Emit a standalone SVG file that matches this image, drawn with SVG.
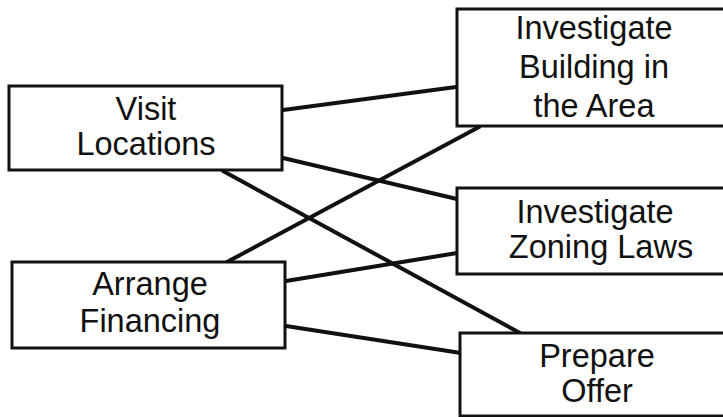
<svg xmlns="http://www.w3.org/2000/svg" width="723" height="417" viewBox="0 0 723 417">
<style>
.box{fill:#fff;stroke:#111;stroke-width:3}
.lbl{font-family:"Liberation Sans",Arial,sans-serif;font-size:32.5px;fill:#111;text-anchor:middle}
.conn line{stroke:#111;stroke-width:4;stroke-linecap:round}
</style>
<rect width="723" height="417" fill="#fff"/>
<g id="connectors" class="conn">
<line x1="283" y1="110" x2="456" y2="87"/>
<line x1="283" y1="158" x2="457" y2="199"/>
<line x1="223" y1="171" x2="520" y2="333"/>
<line x1="227" y1="262" x2="479" y2="127"/>
<line x1="286" y1="281" x2="457" y2="253"/>
<line x1="286" y1="326" x2="461" y2="353"/>
</g>
<g id="visit-locations">
<rect class="box" x="9" y="86" width="273" height="84"/>
<text class="lbl" x="146" y="120">Visit</text>
<text class="lbl" x="146" y="155">Locations</text>
</g>
<g id="arrange-financing">
<rect class="box" x="12" y="262" width="273" height="86"/>
<text class="lbl" x="150" y="295">Arrange</text>
<text class="lbl" x="150" y="332">Financing</text>
</g>
<g id="investigate-building">
<rect class="box" x="457" y="9" width="280" height="117"/>
<text class="lbl" x="594" y="39">Investigate</text>
<text class="lbl" x="594" y="78">Building in</text>
<text class="lbl" x="594" y="117">the Area</text>
</g>
<g id="investigate-zoning">
<rect class="box" x="457" y="188" width="280" height="86"/>
<text class="lbl" x="595" y="223">Investigate</text>
<text class="lbl" x="601" y="258">Zoning Laws</text>
</g>
<g id="prepare-offer">
<rect class="box" x="460" y="333" width="280" height="83"/>
<text class="lbl" x="597" y="367">Prepare</text>
<text class="lbl" x="597" y="402">Offer</text>
</g>
</svg>
